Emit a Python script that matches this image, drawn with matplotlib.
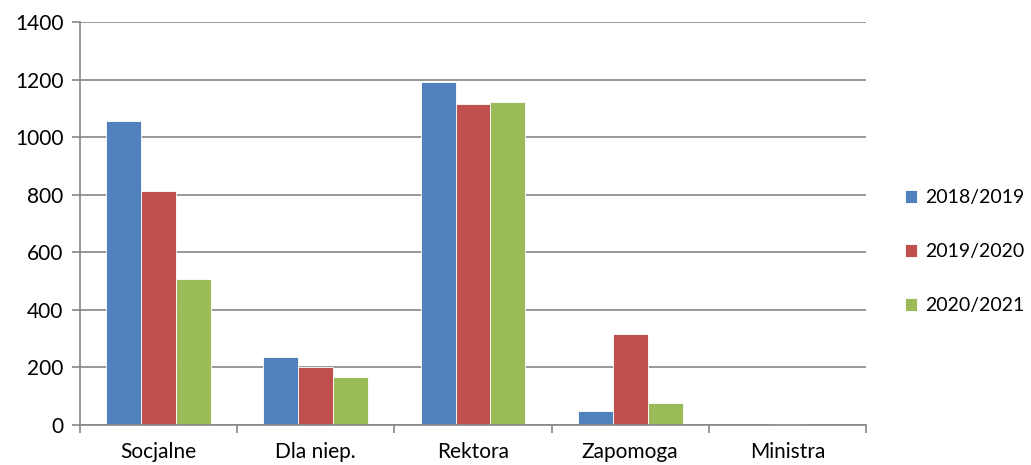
import matplotlib.pyplot as plt
import numpy as np

# Liczba stypendiów wg rodzaju i roku akademickiego
categories = ['Socjalne', 'Dla niep.', 'Rektora', 'Zapomoga', 'Ministra']
series_names = ['2018/2019', '2019/2020', '2020/2021']
v_2018 = [1056, 236, 1191, 49, 0]
v_2019 = [813, 201, 1115, 316, 4]
v_2020 = [507, 167, 1122, 76, 0]
colors = ['#4F81BD', '#C0504D', '#9BBB59']

plt.rcParams['font.family'] = ['Lato', 'DejaVu Sans']

fig = plt.figure(figsize=(10.31, 4.65), dpi=100)
ax = fig.add_axes([80/1031, 40/465, 786/1031, 403/465])

x = np.arange(len(categories))
width = 1 / 4.5
for k, (vals, name) in enumerate(zip([v_2018, v_2019, v_2020], series_names)):
    ax.bar(x + (k - 1) * width, vals, width, color=colors[k], label=name,
           edgecolor='white', linewidth=0.6, zorder=2)

ax.set_xlim(-0.5, len(categories) - 0.5)
ax.set_ylim(0, 1400)
ax.set_yticks(np.arange(0, 1401, 200))
ax.yaxis.grid(True, color='#868686', linewidth=1.2)

# category labels centered, tick marks on the boundaries
ax.set_xticks(x)
ax.set_xticklabels(categories)
ax.set_xticks(np.arange(-0.5, len(categories)), minor=True)
ax.tick_params(axis='x', which='major', length=0, labelsize=15, pad=12)
ax.tick_params(axis='x', which='minor', length=6, color='#868686', width=1.2)
ax.tick_params(axis='y', length=6, color='#868686', width=1.2, labelsize=15, pad=6)

for side in ['top', 'right']:
    ax.spines[side].set_visible(False)
for side in ['left', 'bottom']:
    ax.spines[side].set_color('#868686')
    ax.spines[side].set_linewidth(1.2)

ax.legend(loc='center left', bbox_to_anchor=(1.049, 0.43), frameon=False,
          fontsize=14, handlelength=0.65, handleheight=0.65, handletextpad=0.4,
          labelspacing=1.9, borderpad=0, borderaxespad=0)

plt.savefig('out.png', dpi=100)
